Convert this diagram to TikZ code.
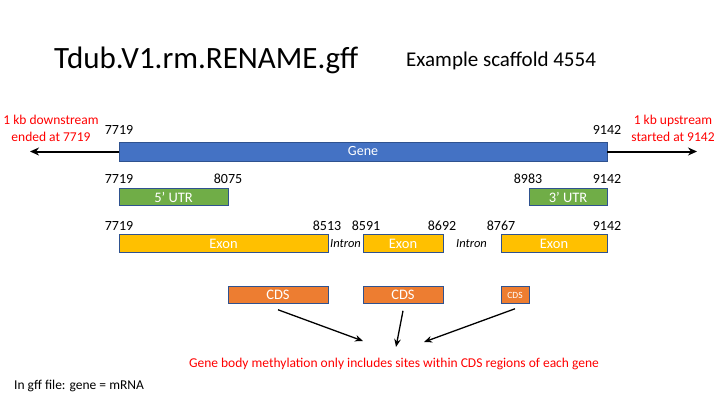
\documentclass[tikz,border=0pt]{standalone}
\usepackage{fontspec}
\setmainfont{Carlito}
\usetikzlibrary{arrows.meta}
\definecolor{genefill}{HTML}{4472C4}
\definecolor{edgeblue}{HTML}{2F528F}
\definecolor{utrfill}{HTML}{70AD47}
\definecolor{exonfill}{HTML}{FFC000}
\definecolor{cdsfill}{HTML}{ED7D31}
\definecolor{notered}{HTML}{FF0000}
\begin{document}
\begin{tikzpicture}[x=1pt,y=-1pt,
  feature/.style={draw=edgeblue, line width=0.9pt, inner sep=0pt, outer sep=0pt,
    text=white, font=\fontsize{14.5}{16}\selectfont},
  genebox/.style={feature, fill=genefill, minimum height=19pt, font=\fontsize{14}{16}\selectfont},
  utrbox/.style={feature, fill=utrfill, minimum height=17.5pt},
  exonbox/.style={feature, fill=exonfill, minimum height=17.5pt},
  cdsbox/.style={feature, fill=cdsfill, minimum height=17.5pt},
  coord/.style={font=\fontsize{14}{16}\selectfont, inner sep=0pt},
  intronlab/.style={font=\fontsize{12.5}{14}\selectfont\itshape, inner sep=0pt},
  redlab/.style={text=notered, font=\fontsize{13.5}{16.5}\selectfont, inner sep=0pt, align=center},
  flank/.style={line width=2pt, -{Stealth[length=9pt,width=8pt]}},
  toward/.style={line width=1.3pt, -{Stealth[length=8pt,width=6.5pt]}}
]
\useasboundingbox (0,0) rectangle (720,405);

% headings
\node[inner sep=0pt, anchor=west, font=\fontsize{31}{36}\selectfont] (title) at (54,60) {Tdub.V1.rm.RENAME.gff};
\node[inner sep=0pt, anchor=west, font=\fontsize{21}{25}\selectfont] (scaffold) at (406,61) {Example scaffold 4554};

% gene span and flanking regions
\node[genebox, minimum width=488pt] (gene) at (363,151.5) {Gene};
\coordinate (downend) at (30,151.5);
\coordinate (upend) at (697,151.5);
\draw[flank] (gene.west) -- (downend);
\draw[flank] (gene.east) -- (upend);
\node[redlab] (down) at (51,128.5) {1 kb downstream\\ ended at 7719};
\node[redlab] (up) at (673,128.5) {1 kb upstream\\ started at 9142};
\node[coord] (g1) at (119,130) {7719};
\node[coord] (g2) at (607,130) {9142};

% UTRs
\node[utrbox, minimum width=109pt] (utr5) at (173.5,197) {5’ UTR};
\node[utrbox, minimum width=78pt] (utr3) at (568,197) {3’ UTR};
\node[coord] (u1) at (119,179) {7719};
\node[coord] (u2) at (228,179) {8075};
\node[coord] (u3) at (528,179) {8983};
\node[coord] (u4) at (607,179) {9142};

% exons and introns
\node[exonbox, minimum width=209pt] (exon1) at (223.5,243.5) {Exon};
\node[exonbox, minimum width=80pt] (exon2) at (403,243.5) {Exon};
\node[exonbox, minimum width=106pt] (exon3) at (554,243.5) {Exon};
\node[intronlab] (intron1) at (345.5,243.5) {Intron};
\node[intronlab] (intron2) at (471.5,243.5) {Intron};
\node[coord] (e1) at (119,226) {7719};
\node[coord] (e2) at (327,226) {8513};
\node[coord] (e3) at (366,226) {8591};
\node[coord] (e4) at (442,226) {8692};
\node[coord] (e5) at (501,226) {8767};
\node[coord] (e6) at (607,226) {9142};

% coding sequences
\node[cdsbox, minimum width=100pt] (cds1) at (278,295) {CDS};
\node[cdsbox, minimum width=80pt] (cds2) at (403,295) {CDS};
\node[cdsbox, minimum width=28pt, font=\fontsize{9.5}{11}\selectfont] (cds3) at (515,295) {CDS};

% note on methylation
\node[redlab] (note) at (394,364) {Gene body methylation only includes sites within CDS regions of each gene};
\coordinate (tip1) at (363,341);
\coordinate (tip2) at (396,347);
\coordinate (tip3) at (424,342);
\draw[toward] ([yshift=-6pt]cds1.south) -- (tip1);
\draw[toward] ([yshift=-7pt]cds2.south) -- (tip2);
\draw[toward] ([yshift=-5pt]cds3.south) -- (tip3);

\node[inner sep=0pt, anchor=west, font=\fontsize{13.5}{16}\selectfont] (gffnote) at (14,386) {In gff file: gene = mRNA};
\end{tikzpicture}
\end{document}
